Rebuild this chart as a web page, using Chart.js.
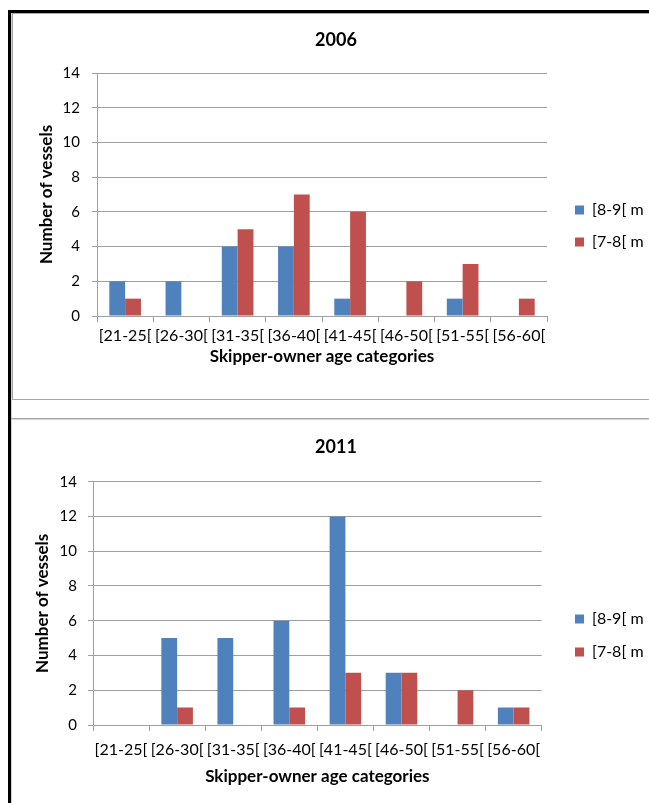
<!DOCTYPE html>
<html>
<head>
<meta charset="utf-8">
<script src="https://cdn.jsdelivr.net/npm/chart.js@4.4.1/dist/chart.umd.min.js"></script>
<style>
html,body{margin:0;padding:0;background:#fff;width:649px;height:803px;overflow:hidden}
body{position:relative}
.rule{position:absolute}
#topRule{left:8px;top:10px;width:641px;height:3px;background:#000}
#leftRule{left:8px;top:10px;width:3px;height:793px;background:#000}
#leftShade{left:11px;top:13px;width:1px;height:790px;background:#d0d0d0}
#box1{left:12px;top:13px;width:700px;height:387px;border:1px solid #a8a8a8;box-sizing:border-box}
#cellRule{left:11px;top:418px;width:638px;height:1px;background:#a8a8a8;border-bottom:1px solid #d6d6d6}
.chart{position:absolute;left:13px}
#wrap1{top:14px}
#wrap2{top:420px}
</style>
</head>
<body>
<div class="rule" id="topRule"></div>
<div class="rule" id="leftRule"></div>
<div class="rule" id="leftShade"></div>
<div class="rule" id="box1"></div>
<div class="rule" id="cellRule"></div>
<div class="chart" id="wrap1"><canvas id="c2006" width="700" height="384"></canvas></div>
<div class="chart" id="wrap2"><canvas id="c2011" width="700" height="383"></canvas></div>
<script>
// --- Data ---
const categories = ['[21-25[','[26-30[','[31-35[','[36-40[','[41-45[','[46-50[','[51-55[','[56-60['];
const seriesNames = ['[8-9[ m','[7-8[ m'];
const vessels8to9_2006 = [2,2,4,4,1,0,1,0];
const vessels7to8_2006 = [1,0,5,7,6,2,3,1];
const vessels8to9_2011 = [0,5,5,6,12,3,0,1];
const vessels7to8_2011 = [0,1,0,1,3,3,2,1];
const yMin = 0, yMax = 14, yStep = 2;
const xTitle = 'Skipper-owner age categories';
const yTitle = 'Number of vessels';

const FONT = 'Lato';
const GRID = '#a0a0a0';
const BLUE = '#4F81BD', RED = '#C0504D';
const LEG_SIZE = 16, BOX = 9, CANVAS_W = 700;

// legend width as Chart.js computes it (padding + box + gap + text + 10)
function legendWidth(pad){
  const ctx = document.createElement('canvas').getContext('2d');
  ctx.font = LEG_SIZE + 'px ' + FONT;
  const tw = Math.max(...seriesNames.map(s => ctx.measureText(s).width));
  return pad + BOX + LEG_SIZE/2 + tw + 10;
}

function makeChart(id, title, blue, red, L){
  const lw = legendWidth(L.legendGap);
  const padLeft = 2*L.titleCenter - L.legendLeft - lw;   // centres the title
  const padRight = CANVAS_W - L.legendLeft - lw;
  return new Chart(document.getElementById(id), {
    type:'bar',
    data:{
      labels:categories,
      datasets:[
        {label:seriesNames[0], data:blue, backgroundColor:BLUE, borderWidth:0},
        {label:seriesNames[1], data:red, backgroundColor:RED, borderWidth:0}
      ]
    },
    options:{
      responsive:false, animation:false,
      layout:{padding:{left:padLeft, top:0, right:padRight, bottom:0}},
      datasets:{bar:{categoryPercentage:0.5625, barPercentage:1}},
      plugins:{
        title:{display:true, text:title, color:'#000',
          font:{family:FONT, size:18, weight:'bold'},
          padding:{top:L.titleTop, bottom:L.titleBottom}},
        legend:{position:'right', align:'center',
          title:{display:true, text:' ', font:{size:12}, padding:{top:L.legendShift, bottom:0}},
          labels:{boxWidth:BOX, boxHeight:BOX, padding:L.legendGap, color:'#000',
            font:{family:FONT, size:LEG_SIZE}}},
        tooltip:{enabled:false}
      },
      scales:{
        x:{
          offset:true,
          grid:{offset:true, drawOnChartArea:false, drawTicks:true, tickLength:6, color:GRID},
          border:{color:GRID},
          ticks:{autoSkip:false, maxRotation:0, padding:L.xTickPad, color:'#000', font:{family:FONT, size:16}},
          title:{display:true, text:xTitle, color:'#000', font:{family:FONT, size:17, weight:'bold'},
            padding:{top:0, bottom:L.xTitlePad}},
          afterFit(s){ s.height = L.xHeight; }
        },
        y:{
          min:yMin, max:yMax,
          grid:{color:GRID, tickLength:5},
          border:{color:GRID},
          ticks:{stepSize:yStep, padding:L.yTickPad, color:'#000', font:{family:FONT, size:15}},
          title:{display:true, text:yTitle, color:'#000', font:{family:FONT, size:17, weight:'bold'},
            padding:{top:L.yTitleCenter - 10.2 - padLeft, bottom:0}},
          afterFit(s){ s.width = L.plotLeft - padLeft; }
        },
        gap:{position:'right', display:true, grid:{display:false}, border:{display:false},
          ticks:{display:false}, afterFit(s){ s.width = L.legendLeft - L.plotRight; }}
      }
    }
  });
}

makeChart('c2006', '2006', vessels8to9_2006, vessels7to8_2006, {
  titleCenter:323, legendLeft:546, plotLeft:84, plotRight:534,
  titleTop:15.2, titleBottom:22.2, legendShift:25.6, legendGap:16,
  xTickPad:4.4, xTitlePad:31.1, xHeight:82, yTickPad:12, yTitleCenter:34
});
makeChart('c2011', '2011', vessels8to9_2011, vessels7to8_2011, {
  titleCenter:323, legendLeft:545, plotLeft:80, plotRight:528.7,
  titleTop:16.2, titleBottom:23.9, legendShift:33.6, legendGap:17,
  xTickPad:9.4, xTitlePad:16.1, xHeight:78, yTickPad:11, yTitleCenter:30
});
</script>
</body>
</html>
